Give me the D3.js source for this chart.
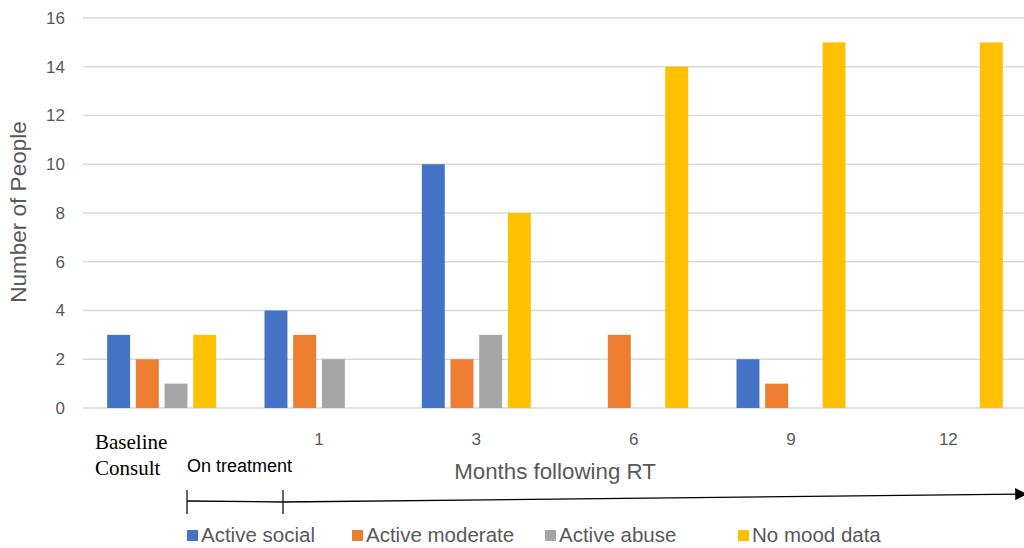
<!DOCTYPE html>
<html>
<head>
<meta charset="utf-8">
<script src="https://cdn.jsdelivr.net/npm/d3@7"></script>
<style>
  html, body { margin: 0; padding: 0; background: #fff; }
  svg { display: block; }
  text { font-family: "Liberation Sans", Arial, sans-serif; }
</style>
</head>
<body>
<svg id="chart" width="1024" height="548"></svg>
<script>
// Follow-up time points (first group is the baseline consult, labelled separately)
const categories = ["Baseline", "1", "3", "6", "9", "12"];
const seriesNames = ["Active social", "Active moderate", "Active abuse", "No mood data"];
const activeSocial   = [3, 4, 10, 0, 2, 0];
const activeModerate = [2, 3, 2, 3, 1, 0];
const activeAbuse    = [1, 2, 3, 0, 0, 0];
const noMoodData     = [3, 0, 8, 14, 15, 15];
const yTicks = [0, 2, 4, 6, 8, 10, 12, 14, 16];
const colors = ["#4472C4", "#ED7D31", "#A5A5A5", "#FFC000"];

const seriesValues = [activeSocial, activeModerate, activeAbuse, noMoodData];

const svg = d3.select("#chart");
const plot = { left: 83, right: 1027, top: 18, bottom: 408 };

const x0 = d3.scaleBand().domain(categories).range([plot.left, plot.right]).padding(0);
const x1 = d3.scaleBand().domain(seriesNames).range([0, x0.bandwidth()])
  .paddingInner(0.2).paddingOuter(0.842);
const y = d3.scaleLinear().domain([0, 16]).range([plot.bottom, plot.top]);

// Horizontal gridlines
svg.append("g")
  .selectAll("line")
  .data(yTicks)
  .join("line")
  .attr("x1", plot.left).attr("x2", 1024)
  .attr("y1", d => y(d)).attr("y2", d => y(d))
  .attr("stroke", "#d9d9d9").attr("stroke-width", 1.3);

// Y axis tick labels
const yAxis = d3.axisLeft(y).tickValues(yTicks).tickSize(0).tickPadding(0);
const yg = svg.append("g").attr("transform", `translate(${plot.left - 18},0)`).call(yAxis);
yg.select(".domain").remove();
yg.selectAll("text")
  .attr("fill", "#595959")
  .style("font-size", "17px")
  .style("font-family", "'Liberation Sans', Arial, sans-serif");

// Y axis title
svg.append("text")
  .attr("transform", `translate(26,212) rotate(-90)`)
  .attr("text-anchor", "middle")
  .attr("fill", "#595959")
  .style("font-size", "22.5px")
  .text("Number of People");

// Bars
const groups = svg.append("g")
  .selectAll("g")
  .data(categories)
  .join("g")
  .attr("transform", d => `translate(${x0(d)},0)`);

groups.selectAll("rect")
  .data((d, i) => seriesNames.map((s, j) => ({ s, v: seriesValues[j][i], c: colors[j] })))
  .join("rect")
  .filter(d => d.v > 0)
  .attr("x", d => x1(d.s))
  .attr("width", x1.bandwidth())
  .attr("y", d => y(d.v))
  .attr("height", d => y(0) - y(d.v))
  .attr("fill", d => d.c);

// X axis tick labels (month numbers)
const xAxis = d3.axisBottom(x0).tickSize(0).tickPadding(0)
  .tickFormat(d => d === "Baseline" ? "" : d);
const xg = svg.append("g").attr("transform", `translate(0,${plot.bottom + 37})`).call(xAxis);
xg.select(".domain").remove();
xg.selectAll("text")
  .attr("dy", 0)
  .attr("fill", "#595959")
  .style("font-size", "17px")
  .style("font-family", "'Liberation Sans', Arial, sans-serif");

// Baseline consult label
const base = svg.append("text")
  .attr("x", 95)
  .attr("fill", "#000")
  .style("font-family", "'Liberation Serif', 'Times New Roman', serif")
  .style("font-size", "21px");
base.append("tspan").attr("x", 95).attr("y", 449).text("Baseline");
base.append("tspan").attr("x", 95).attr("y", 475).text("Consult");

// Treatment period label
svg.append("text")
  .attr("x", 187).attr("y", 472)
  .attr("fill", "#000")
  .style("font-size", "18px")
  .text("On treatment");

// X axis title
svg.append("text")
  .attr("x", 555).attr("y", 479)
  .attr("text-anchor", "middle")
  .attr("fill", "#595959")
  .style("font-size", "22.3px")
  .text("Months following RT");

// Timeline arrow
svg.append("defs").append("marker")
  .attr("id", "arrowhead")
  .attr("viewBox", "0 0 10 10")
  .attr("refX", 9).attr("refY", 5)
  .attr("markerWidth", 12).attr("markerHeight", 12)
  .attr("markerUnits", "userSpaceOnUse")
  .attr("orient", "auto")
  .append("path")
  .attr("d", "M0,0 L10,5 L0,10 Z")
  .attr("fill", "#000");

svg.append("line")
  .attr("x1", 187).attr("y1", 501).attr("x2", 283).attr("y2", 502)
  .attr("stroke", "#000").attr("stroke-width", 1.3);
svg.append("line")
  .attr("x1", 283).attr("y1", 502).attr("x2", 1026).attr("y2", 494)
  .attr("stroke", "#000").attr("stroke-width", 1.3)
  .attr("marker-end", "url(#arrowhead)");
[187, 283].forEach(px => {
  svg.append("line")
    .attr("x1", px).attr("x2", px).attr("y1", 490).attr("y2", 514)
    .attr("stroke", "#000").attr("stroke-width", 1.2);
});

// Legend
const legendX = [187, 352, 545, 738];
const legend = svg.append("g")
  .selectAll("g")
  .data(seriesNames)
  .join("g")
  .attr("transform", (d, i) => `translate(${legendX[i]},535)`);
legend.append("rect")
  .attr("x", 0).attr("y", -5).attr("width", 11).attr("height", 11)
  .attr("fill", (d, i) => colors[i]);
legend.append("text")
  .attr("x", 14).attr("y", 7)
  .attr("fill", "#595959")
  .style("font-size", "20.5px")
  .text(d => d);
</script>
</body>
</html>
